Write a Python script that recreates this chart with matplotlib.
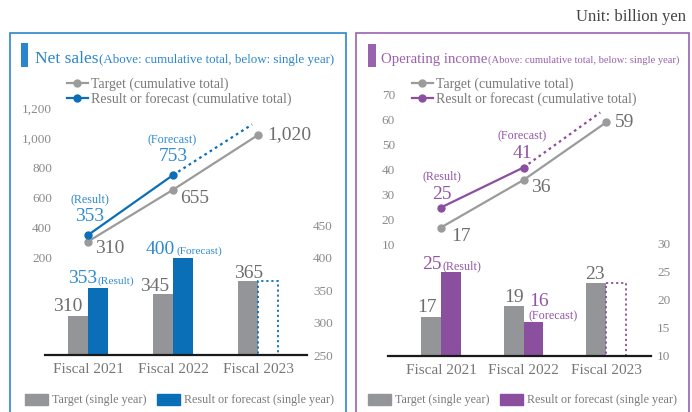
import matplotlib
matplotlib.use("Agg")
import matplotlib.pyplot as plt
from matplotlib.patches import Rectangle, Patch
from matplotlib.lines import Line2D

# ---------------- data ----------------
years = ["Fiscal 2021", "Fiscal 2022", "Fiscal 2023"]

sales_target_cum = [310, 655, 1020]
sales_result_cum = [353, 753]
sales_cum_ext = 1090          # dotted continuation toward fiscal 2023
sales_target_single = [310, 345, 365]
sales_result_single = [353, 400]

oi_target_cum = [17, 36, 59]
oi_result_cum = [25, 41]
oi_cum_ext = 63
oi_target_single = [17, 19, 23]
oi_result_single = [25, 16]

sales_line_ticks = [200, 400, 600, 800, 1000, 1200]
sales_line_ticklabels = ["200", "400", "600", "800", "1,000", "1,200"]
sales_bar_ticks = [250, 300, 350, 400, 450]
oi_line_ticks = [10, 20, 30, 40, 50, 60, 70]
oi_bar_ticks = [10, 15, 20, 25, 30]

# ---------------- style ----------------
W, H = 692, 412
SERIF = ["Liberation Serif", "DejaVu Serif"]
plt.rcParams["font.family"] = SERIF

BLUE = "#0a6fb7"
BLUE_TXT = "#2f8ad0"
BLUE_BORDER = "#2a86cc"
PURPLE = "#8b4f9f"
PURPLE_TXT = "#9356a6"
PURPLE_BORDER = "#9a62ae"
GRAY_BAR = "#939598"
GRAY_LINE = "#9b9b9b"
GRAY_TXT = "#6e6e6e"
TICK_TXT = "#8a8a8a"


def P(v):
    """pixels -> points"""
    return v * 72.0 / 100.0


fig = plt.figure(figsize=(W / 100, H / 100), dpi=100)
renderer = fig.canvas.get_renderer()


def add_axes(l, t, r, b):
    return fig.add_axes([l / W, 1 - b / H, (r - l) / W, (b - t) / H])


def fx(x):
    return x / W


def fy(y):
    return 1 - y / H


def panel(box, color, mark, title, title_x, title_size, sub, sub_size):
    l, t, r = box
    fig.patches.append(Rectangle((fx(l), fy(H + 5)), fx(r) - fx(l), fy(t) - fy(H + 5),
                                 transform=fig.transFigure, fill=False,
                                 edgecolor=color, lw=1.2))
    ml, mt, mr, mb = mark
    fig.patches.append(Rectangle((fx(ml), fy(mb)), fx(mr) - fx(ml), fy(mt) - fy(mb),
                                 transform=fig.transFigure, color=color, lw=0))
    tt = fig.text(fx(title_x), fy(63), title, color=color, fontsize=title_size, va="baseline")
    ext = tt.get_window_extent(renderer=renderer)
    fig.text(fx(ext.x1 + 0.5), fy(63), sub, color=color, fontsize=sub_size, va="baseline")


def chart(rect, xlim, barw, line_ylim, bar_ylim, line_ticks, line_labels, bar_ticks,
          t_cum, r_cum, ext, t_single, r_single, col, col_txt):
    ax = add_axes(*rect)
    axb = ax.twinx()
    x = list(range(len(years)))
    ax.set_xlim(*xlim)
    ax.set_ylim(*line_ylim)
    axb.set_ylim(*bar_ylim)
    for a in (ax, axb):
        for s in a.spines.values():
            s.set_visible(False)
        a.patch.set_visible(False)
    axb.spines["bottom"].set_visible(True)
    axb.spines["bottom"].set_color("#1a1a1a")
    axb.spines["bottom"].set_linewidth(1.6)

    ax.set_xticks(x)
    ax.set_xticklabels(years)
    ax.tick_params(axis="x", length=0, pad=P(8), labelsize=11, labelcolor="#777777")
    ax.set_yticks(line_ticks)
    ax.set_yticklabels(line_labels)
    ax.tick_params(axis="y", length=0, pad=-P(7), labelsize=9.5, labelcolor=TICK_TXT)
    axb.set_yticks(bar_ticks)
    axb.tick_params(axis="y", length=0, pad=P(6), labelsize=9.5, labelcolor=TICK_TXT)

    # bars
    xs_g = [v - barw / 2 for v in x]
    axb.bar(xs_g, t_single, width=barw, color=GRAY_BAR, zorder=2)
    xs_r = [v + barw / 2 for v in x[:len(r_single)]]
    axb.bar(xs_r, r_single, width=barw, color=col, zorder=2)
    # dotted placeholder for the not-yet-known year
    axb.bar([x[-1] + barw / 2], [t_single[-1]], width=barw, fill=False,
            edgecolor=col, linestyle=(0, (1.2, 1.6)), lw=1.3, zorder=2)

    # lines
    ax.plot(x, t_cum, color=GRAY_LINE, lw=1.6, marker="o", ms=5, zorder=3)
    ax.plot([x[len(r_cum) - 1], x[-1] - 0.07], [r_cum[-1], ext], color=col, lw=1.6,
            linestyle=(0, (1.2, 1.6)), zorder=3)
    ax.plot(x[:len(r_cum)], r_cum, color=col, lw=1.6, marker="o", ms=5, zorder=4)
    return ax, axb, x


# ================= left panel: net sales =================
panel((10, 33, 346), BLUE_BORDER, (21, 43, 28, 67), "Net sales", 35, 12.5,
      "(Above: cumulative total, below: single year)", 9.4)

ax, axb, x = chart((45, 90, 307, 355), (-0.506, 2.576), 0.23,
                   (-(355 - 288) / 0.15, (288 - 90) / 0.15),
                   (250, 250 + 265 / 0.647),
                   sales_line_ticks, sales_line_ticklabels, sales_bar_ticks,
                   sales_target_cum, sales_result_cum, sales_cum_ext,
                   sales_target_single, sales_result_single, BLUE, BLUE_TXT)


def lab(a, xy, s, dx, dy, color, size, ha="center", va="center"):
    a.annotate(s, xy=xy, xytext=(P(dx), P(dy)), textcoords="offset points",
               ha=ha, va=va, color=color, fontsize=size, zorder=6)


bw = 0.23
# line labels
lab(ax, (x[0], sales_result_cum[0]), "(Result)", 2, 36, BLUE_TXT, 8.7)
lab(ax, (x[0], sales_result_cum[0]), "353", 2, 19, BLUE_TXT, 14)
lab(ax, (x[0], sales_target_cum[0]), f"{sales_target_cum[0]:,}", 7, -7, GRAY_TXT, 14, ha="left")
lab(ax, (x[1], sales_result_cum[1]), "(Forecast)", -1, 35, BLUE_TXT, 8.7)
lab(ax, (x[1], sales_result_cum[1]), f"{sales_result_cum[1]:,}", 0, 19, BLUE_TXT, 14)
lab(ax, (x[1], sales_target_cum[1]), f"{sales_target_cum[1]:,}", 7, -9, GRAY_TXT, 14, ha="left")
lab(ax, (x[2], sales_target_cum[2]), f"{sales_target_cum[2]:,}", 9, 0, GRAY_TXT, 14, ha="left")
# bar labels
lab(axb, (x[0] - bw / 2, sales_target_single[0]), f"{sales_target_single[0]}", -10, 5, GRAY_TXT, 14, va="baseline")
lab(axb, (x[0] + bw / 2, sales_result_single[0]), f"{sales_result_single[0]}", -1, 5, BLUE_TXT, 14, ha="right", va="baseline")
lab(axb, (x[0] + bw / 2, sales_result_single[0]), "(Result)", 0, 5, BLUE_TXT, 8.2, ha="left", va="baseline")
lab(axb, (x[1] - bw / 2, sales_target_single[1]), f"{sales_target_single[1]}", -9, 3, GRAY_TXT, 14, va="baseline")
lab(axb, (x[1] + bw / 2, sales_result_single[1]), f"{sales_result_single[1]}", -8, 4, BLUE_TXT, 14, ha="right", va="baseline")
lab(axb, (x[1] + bw / 2, sales_result_single[1]), "(Forecast)", -6, 4, BLUE_TXT, 8.2, ha="left", va="baseline")
lab(axb, (x[2] - bw / 2, sales_target_single[2]), f"{sales_target_single[2]}", 0, 3, GRAY_TXT, 14, va="baseline")

# ================= right panel: operating income =================
panel((356, 33, 689), PURPLE_BORDER, (368, 44, 376, 67), "Operating income", 381, 10.6,
      "(Above: cumulative total, below: single year)", 7.6)

bw2 = 0.24
ax2, axb2, x2 = chart((388, 90, 651, 356), (-0.642, 2.545), bw2,
                      (-(356 - 270) / 2.5, (270 - 90) / 2.5),
                      (10, 10 + 266 / 5.6),
                      oi_line_ticks, [str(v) for v in oi_line_ticks], oi_bar_ticks,
                      oi_target_cum, oi_result_cum, oi_cum_ext,
                      oi_target_single, oi_result_single, PURPLE, PURPLE_TXT)

lab(ax2, (x2[0], oi_result_cum[0]), "(Result)", 1, 31, PURPLE_TXT, 8.7)
lab(ax2, (x2[0], oi_result_cum[0]), f"{oi_result_cum[0]}", 1, 13, PURPLE_TXT, 14)
lab(ax2, (x2[0], oi_target_cum[0]), f"{oi_target_cum[0]}", 10, -9, GRAY_TXT, 14, ha="left")
lab(ax2, (x2[1], oi_result_cum[1]), "(Forecast)", -1, 31, PURPLE_TXT, 8.7)
lab(ax2, (x2[1], oi_result_cum[1]), f"{oi_result_cum[1]}", -1, 14, PURPLE_TXT, 14)
lab(ax2, (x2[1], oi_target_cum[1]), f"{oi_target_cum[1]}", 8, -8, GRAY_TXT, 14, ha="left")
lab(ax2, (x2[2], oi_target_cum[2]), f"{oi_target_cum[2]}", 9, 0, GRAY_TXT, 14, ha="left")

lab(axb2, (x2[0] - bw2 / 2, oi_target_single[0]), f"{oi_target_single[0]}", -4, 5, GRAY_TXT, 14, va="baseline")
lab(axb2, (x2[0] + bw2 / 2, oi_result_single[0]), f"{oi_result_single[0]}", -9, 3, PURPLE_TXT, 14, ha="right", va="baseline")
lab(axb2, (x2[0] + bw2 / 2, oi_result_single[0]), "(Result)", -8, 3, PURPLE_TXT, 8.7, ha="left", va="baseline")
lab(axb2, (x2[1] - bw2 / 2, oi_target_single[1]), f"{oi_target_single[1]}", 0, 4, GRAY_TXT, 14, va="baseline")
lab(axb2, (x2[1] + bw2 / 2, oi_result_single[1]), f"{oi_result_single[1]}", -4, 16, PURPLE_TXT, 14, ha="left", va="baseline")
lab(axb2, (x2[1] + bw2 / 2, oi_result_single[1]), "(Forecast)", -5, 3, PURPLE_TXT, 8.7, ha="left", va="baseline")
lab(axb2, (x2[2] - bw2 / 2, oi_target_single[2]), f"{oi_target_single[2]}", -1, 4, GRAY_TXT, 14, va="baseline")

# ================= legends =================
def top_legend(xpx, col):
    hs = [Line2D([], [], color=GRAY_LINE, lw=1.6, marker="o", ms=5),
          Line2D([], [], color=col, lw=1.6, marker="o", ms=5)]
    leg = fig.legend(hs, ["Target (cumulative total)", "Result or forecast (cumulative total)"],
                     loc="upper left", bbox_to_anchor=(fx(xpx), fy(78)), frameon=False,
                     borderpad=0, borderaxespad=0, handlelength=1.5, handletextpad=0.25,
                     labelspacing=0.05, fontsize=10, labelcolor="#7a7a7a")
    return leg


def bottom_legend(xpx, col):
    hs = [Patch(color=GRAY_BAR), Patch(color=col)]
    fig.legend(hs, ["Target (single year)", "Result or forecast (single year)"],
               loc="center left", bbox_to_anchor=(fx(xpx), fy(400)), frameon=False,
               ncol=2, borderpad=0, borderaxespad=0, handlelength=1.9, handleheight=1.0,
               handletextpad=0.3, columnspacing=0.9, fontsize=8.7, labelcolor="#7a7a7a")


top_legend(67, BLUE)
top_legend(412, PURPLE)
bottom_legend(25, BLUE)
bottom_legend(368, PURPLE)

fig.text(fx(686), fy(17), "Unit: billion yen", ha="right", va="center", fontsize=12, color="#444444")

fig.savefig("out.png", dpi=100)
